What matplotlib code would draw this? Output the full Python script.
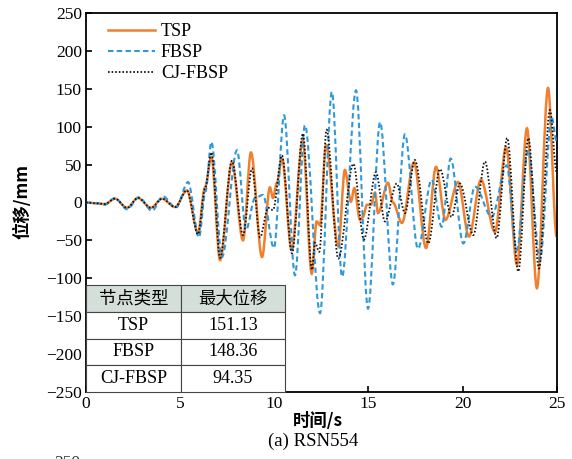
import matplotlib
matplotlib.use("Agg")
import matplotlib.pyplot as plt
from matplotlib.path import Path
from matplotlib.patches import PathPatch
from matplotlib.lines import Line2D

# Displacement response extrema (time in s, displacement in mm)
tsp_t = [0, 0.53, 1.0, 1.54, 2.18, 2.76, 3.45, 4.04, 4.73, 5.36, 5.95, 6.32, 6.66, 7.12,
         7.75, 8.34, 8.76, 9.35, 9.77, 9.93, 10.14, 10.41, 10.92, 11.51, 11.99, 12.25,
         12.43, 12.75, 13.40, 13.75, 14.07, 14.25, 14.55, 14.71, 14.92, 15.14, 15.35,
         15.51, 16.04, 16.30, 16.78, 17.42, 18.06, 18.59, 19.09, 19.76, 20.34, 20.98,
         21.72, 22.31, 22.89, 23.42, 23.95, 24.54, 25.0]
tsp_v = [0, -1, -2, 5, -7, 6, -7, 5, -6, 16, -40, 20, 60, -76,
         53, -50, 66, -72, 20, 6, 26, 58, -63, 82, -94, -25,
         -30, 76, -58, 43, 1, 19, -23, -19, -3, -3, 13,
         -14, 26, 0, -27, 53, -60, 47, -23, 27, -45, 30,
         -39, 73, -82, 98, -113, 151, -45]

fbsp_t = [0, 0.53, 1.0, 1.54, 2.18, 2.81, 3.5, 4.09, 4.78, 5.42, 6.0, 6.35, 6.66, 7.22,
          8.02, 8.5, 8.98, 9.4, 9.98, 10.52, 11.1, 11.63, 12.43, 13.06, 13.6, 14.34,
          14.98, 15.62, 16.3, 16.94, 17.63, 18.36, 18.89, 19.37, 20.04, 20.66, 21.55,
          22.34, 22.87, 23.49, 24.11, 24.73, 25.0]
fbsp_v = [0, -1, -3, 6, -9, 7, -11, 8, -7, 27, -46, 15, 80, -72,
          69, -36, 6, 10, -60, 115, -96, 102, -146, 146, -98, 148,
          -140, 106, -108, 90, -61, 30, -32, 58, -54, 21, -19,
          49, -63, 69, -76, 113, 80]

cj_t = [0, 0.53, 1.0, 1.54, 2.18, 2.76, 3.45, 4.04, 4.73, 5.36, 5.95, 6.32, 6.66, 7.12,
        7.75, 8.34, 8.82, 9.24, 9.67, 9.93, 10.41, 10.94, 11.52, 12.0, 12.16, 12.39,
        12.78, 13.40, 14.2, 14.76, 15.4, 15.88, 16.5, 16.94, 17.47, 18.18, 18.8, 19.42,
        19.86, 20.57, 21.19, 21.81, 22.37, 22.96, 23.49, 24.06, 24.64, 25.0]
cj_v = [0, -1, -2, 5, -7, 6, -7, 5, -6, 16, -42, 18, 66, -73,
        55, -43, 45, -46, -7, -10, 62, -67, 91, -89, -53, -65,
        96, -74, 51, -49, 40, -25, 25, -14, 56, -54, 44, -19,
        25, -43, 54, -47, 85, -91, 85, -87, 122, 40]

series_names = ["TSP", "FBSP", "CJ-FBSP"]
table_header = ["节点类型", "最大位移"]
table_values = ["151.13", "148.36", "94.35"]

y_ticks = [-250, -200, -150, -100, -50, 0, 50, 100, 150, 200, 250]
x_ticks = [0, 5, 10, 15, 20, 25]

SERIF = ["Liberation Serif", "DejaVu Serif"]
CJK = ["Noto Sans CJK SC", "DejaVu Sans"]


def wave_path(t, v):
    """Smooth path through the extrema using cubic Bezier segments."""
    verts = [(t[0], v[0])]
    codes = [Path.MOVETO]
    for i in range(1, len(t)):
        dt = t[i] - t[i - 1]
        verts += [(t[i - 1] + dt / 3, v[i - 1]), (t[i] - dt / 3, v[i]), (t[i], v[i])]
        codes += [Path.CURVE4] * 3
    return Path(verts, codes)


fig = plt.figure(figsize=(5.72, 4.59), dpi=100)
ax = fig.add_axes([86 / 572, 1 - 392 / 459, (556.7 - 86) / 572, (392 - 13) / 459])

styles = [
    dict(color="#F07F2E", lw=1.8, ls="-"),
    dict(color="#2E98D8", lw=1.5, ls=(0, (2.6, 1.6))),
    dict(color="#111111", lw=1.3, ls=(0, (0.9, 1.1))),
]
data = [(tsp_t, tsp_v), (fbsp_t, fbsp_v), (cj_t, cj_v)]
zorders = [2, 3, 4]
for (t, v), st, z in zip(data, styles, zorders):
    ax.add_patch(PathPatch(wave_path(t, v), fill=False, edgecolor=st["color"],
                           lw=st["lw"], ls=st["ls"], zorder=z))

ax.set_xlim(0, 25)
ax.set_ylim(-250, 250)
ax.set_xticks(x_ticks)
ax.set_yticks(y_ticks)
ax.set_xticklabels([str(x) for x in x_ticks], family=SERIF, fontsize=12.5)
ax.set_yticklabels([str(y).replace("-", "\u2212") for y in y_ticks], family=SERIF, fontsize=12.5)
ax.tick_params(direction="in", length=4, width=1.2, pad=3)
for sp in ax.spines.values():
    sp.set_linewidth(1.3)

# Axis titles placed in figure coordinates
fig.text(318 / 572, 1 - 421 / 459, "时间/s", family=CJK, fontsize=12.5,
         fontweight="bold", ha="center", va="center")
fig.text(22 / 572, 1 - 202 / 459, "位移/mm", family=CJK, fontsize=12.5,
         fontweight="bold", ha="center", va="center", rotation=90)

handles = [Line2D([], [], color=st["color"], lw=st["lw"], ls=st["ls"]) for st in styles]
leg = ax.legend(handles, series_names, loc="upper left", bbox_to_anchor=(0.025, 1.0),
                frameon=False, prop={"family": SERIF, "size": 13}, handlelength=2.6,
                handletextpad=0.35, labelspacing=0.22, borderaxespad=0.15)

cell_text = [[n, v] for n, v in zip(series_names, table_values)]
tab = ax.table(cellText=cell_text, colLabels=table_header, cellLoc="center",
               bbox=[0, 0, (285 - 86) / 470.7, (392 - 285) / 379], colWidths=[95, 104])
tab.auto_set_font_size(False)
for (r, c), cell in tab.get_celld().items():
    cell.set_edgecolor("#444444")
    cell.set_linewidth(0.8)
    txt = cell.get_text()
    if r == 0:
        cell.set_facecolor("#D5DFD9")
        txt.set_fontfamily(CJK)
        txt.set_fontsize(12.5)
        txt.set_fontweight("medium")
    else:
        cell.set_facecolor("white")
        txt.set_fontfamily(SERIF)
        txt.set_fontsize(13)
tab.set_zorder(6)

fig.text(313 / 572, 1 - 441 / 459, "(a) RSN554", family=SERIF, fontsize=13.5,
         ha="center", va="center")
fig.text(80 / 572, -4 / 459, "250", family=SERIF, fontsize=12.5, ha="right", va="center",
         color="#333333")

fig.savefig("out.png", dpi=100)
